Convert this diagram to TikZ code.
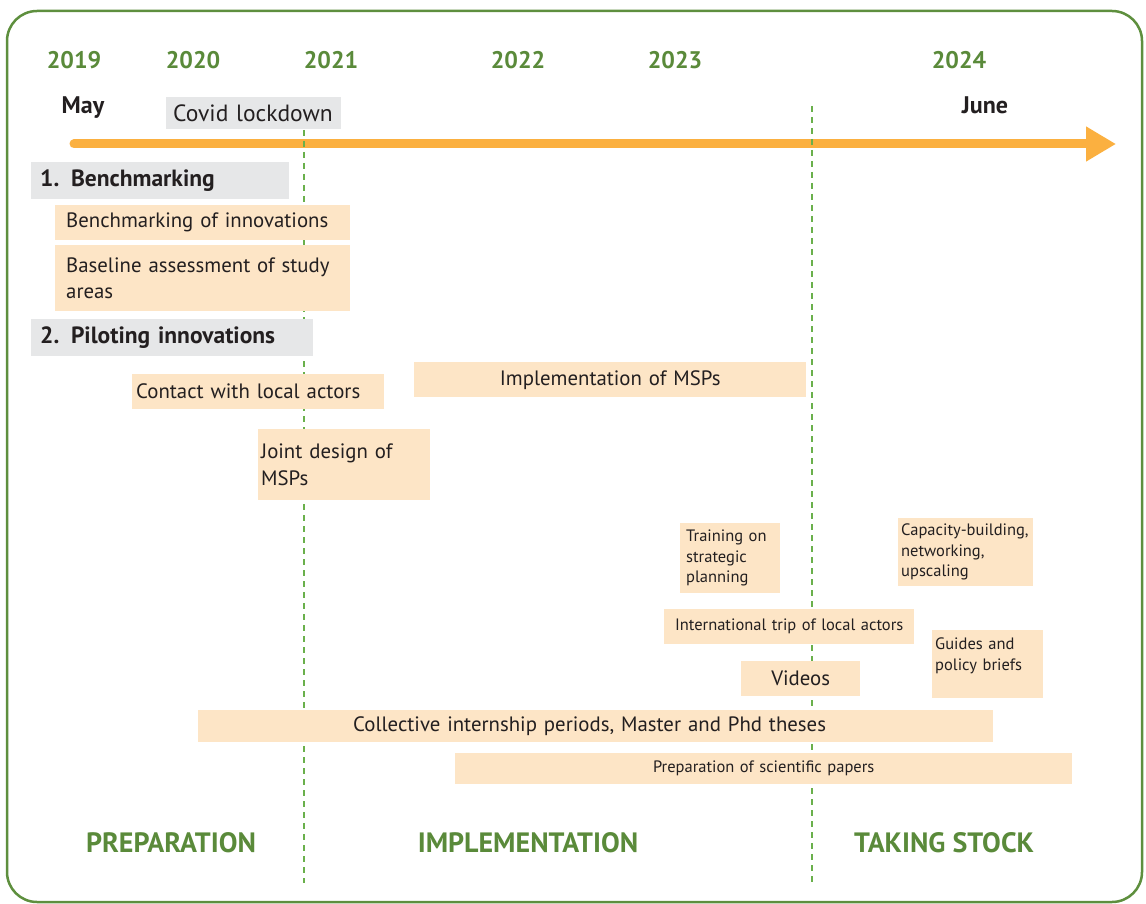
\documentclass[tikz,border=0pt]{standalone}
\usepackage{fontspec}
\setmainfont{PT Sans}
\usetikzlibrary{arrows.meta}
\definecolor{peach}{HTML}{FDE5C6}
\definecolor{grayb}{HTML}{E6E7E8}
\definecolor{arrorange}{HTML}{FBB040}
\definecolor{gtext}{HTML}{5A8A3A}
\definecolor{gdash}{HTML}{6AB04C}
\definecolor{frameg}{HTML}{5E8F3E}
\definecolor{ink}{HTML}{231F20}
\begin{document}
\begin{tikzpicture}[x=1pt,y=-1pt,
  boxbase/.style={anchor=north west, inner ysep=0pt, text=ink, align=left},
  graybox/.style={boxbase, fill=grayb},
  peachbox/.style={boxbase, fill=peach},
  big/.style={font=\fontsize{23.5}{27}\selectfont},
  bigbold/.style={font=\fontsize{23.5}{27}\selectfont\bfseries},
  mid/.style={font=\fontsize{20.8}{26.5}\selectfont},
  small/.style={font=\fontsize{16.5}{20.5}\selectfont},
  year/.style={anchor=base, text=gtext, font=\fontsize{24}{27}\selectfont\bfseries},
  month/.style={anchor=base, text=ink, font=\fontsize{24}{27}\selectfont\bfseries},
  phase/.style={anchor=base, text=gtext, font=\fontsize{28}{31}\selectfont\bfseries},
  dashline/.style={gdash, line width=2pt, dash pattern=on 6pt off 5pt},
  timearrow/.style={arrorange, line width=9pt, line cap=round, -{Triangle[length=30pt,width=33pt]}}
]
\useasboundingbox (0,0) rectangle (1146,904);
% frame
\draw[frameg, line width=2.5pt, rounded corners=30pt] (7,11) rectangle (1142,902);

% years
\node[year] (y2019) at (74,69) {2019};
\node[year] (y2020) at (193,69) {2020};
\node[year] (y2021) at (331,69) {2021};
\node[year] (y2022) at (518,69) {2022};
\node[year] (y2023) at (675,69) {2023};
\node[year] (y2024) at (959,69) {2024};
\node[month] (may) at (83,114) {May};
\node[month] (june) at (985,114) {June};

% time arrow
\coordinate (astart) at (74,144);
\coordinate (aend) at (1116,144);
\draw[timearrow] (astart) -- (aend);

% dashed separators
\coordinate (d1t) at (304,130);
\coordinate (d1b) at (304,883);
\coordinate (d2t) at (812,106);
\coordinate (d2b) at (812,883);
\draw[dashline] (d1t) -- (d1b);
\draw[dashline] (d2t) -- (d2b);

% boxes
\node[graybox, big, inner xsep=7pt, minimum width=175, minimum height=32, text width=161] (covid) at (166,97) {Covid lockdown};
\node[graybox, bigbold, inner xsep=9pt, minimum width=258, minimum height=37, text width=240] (bench) at (31,162) {1. Benchmarking};
\node[peachbox, mid, inner xsep=11pt, minimum width=295, minimum height=35, text width=273] (boi) at (55,205) {Benchmarking of innovations};
\node[peachbox, mid, inner xsep=11pt, minimum width=295, minimum height=66, text width=273] (base) at (55,245) {Baseline assessment of study\\areas};
\node[graybox, bigbold, inner xsep=9pt, minimum width=282, minimum height=37, text width=264] (pilot) at (31,319) {2. Piloting innovations};
\node[peachbox, mid, inner xsep=4pt, minimum width=252, minimum height=35, text width=244] (contact) at (132,374) {Contact with local actors};
\node[peachbox, mid, align=center, inner xsep=0pt, minimum width=392, minimum height=35, text width=392] (impl) at (414,362) {Implementation of MSPs};
\node[peachbox, mid, inner xsep=3pt, minimum width=172, minimum height=71, text width=166] (joint) at (258,429) {Joint design of\\MSPs};
\node[peachbox, small, inner xsep=6pt, minimum width=100, minimum height=70, text width=88] (training) at (680,523) {Training on\\strategic\\planning};
\node[peachbox, small, inner xsep=3pt, minimum width=135, minimum height=68, text width=129] (capacity) at (898,518) {Capacity-building,\\networking,\\upscaling};
\node[peachbox, small, align=center, inner xsep=0pt, minimum width=250, minimum height=35, text width=250] (intl) at (664,609) {International trip of local actors};
\node[peachbox, small, inner xsep=3pt, minimum width=111, minimum height=68, text width=105] (guides) at (932,630) {Guides and\\policy briefs\\\mbox{}};
\node[peachbox, mid, align=center, inner xsep=0pt, minimum width=119, minimum height=35, text width=119] (videos) at (741,661) {Videos};
\node[peachbox, mid, inner xsep=155pt, minimum width=795, minimum height=32, text width=485] (collective) at (198,710) {Collective internship periods, Master and Phd theses};
\node[peachbox, small, align=center, inner xsep=0pt, minimum width=617, minimum height=31, text width=617] (papers) at (455,753) {Preparation of scientific papers};

% phases
\node[phase] (prep) at (171,852) {PREPARATION};
\node[phase] (implph) at (528,852) {IMPLEMENTATION};
\node[phase] (stock) at (944,852) {TAKING STOCK};
\end{tikzpicture}
\end{document}
